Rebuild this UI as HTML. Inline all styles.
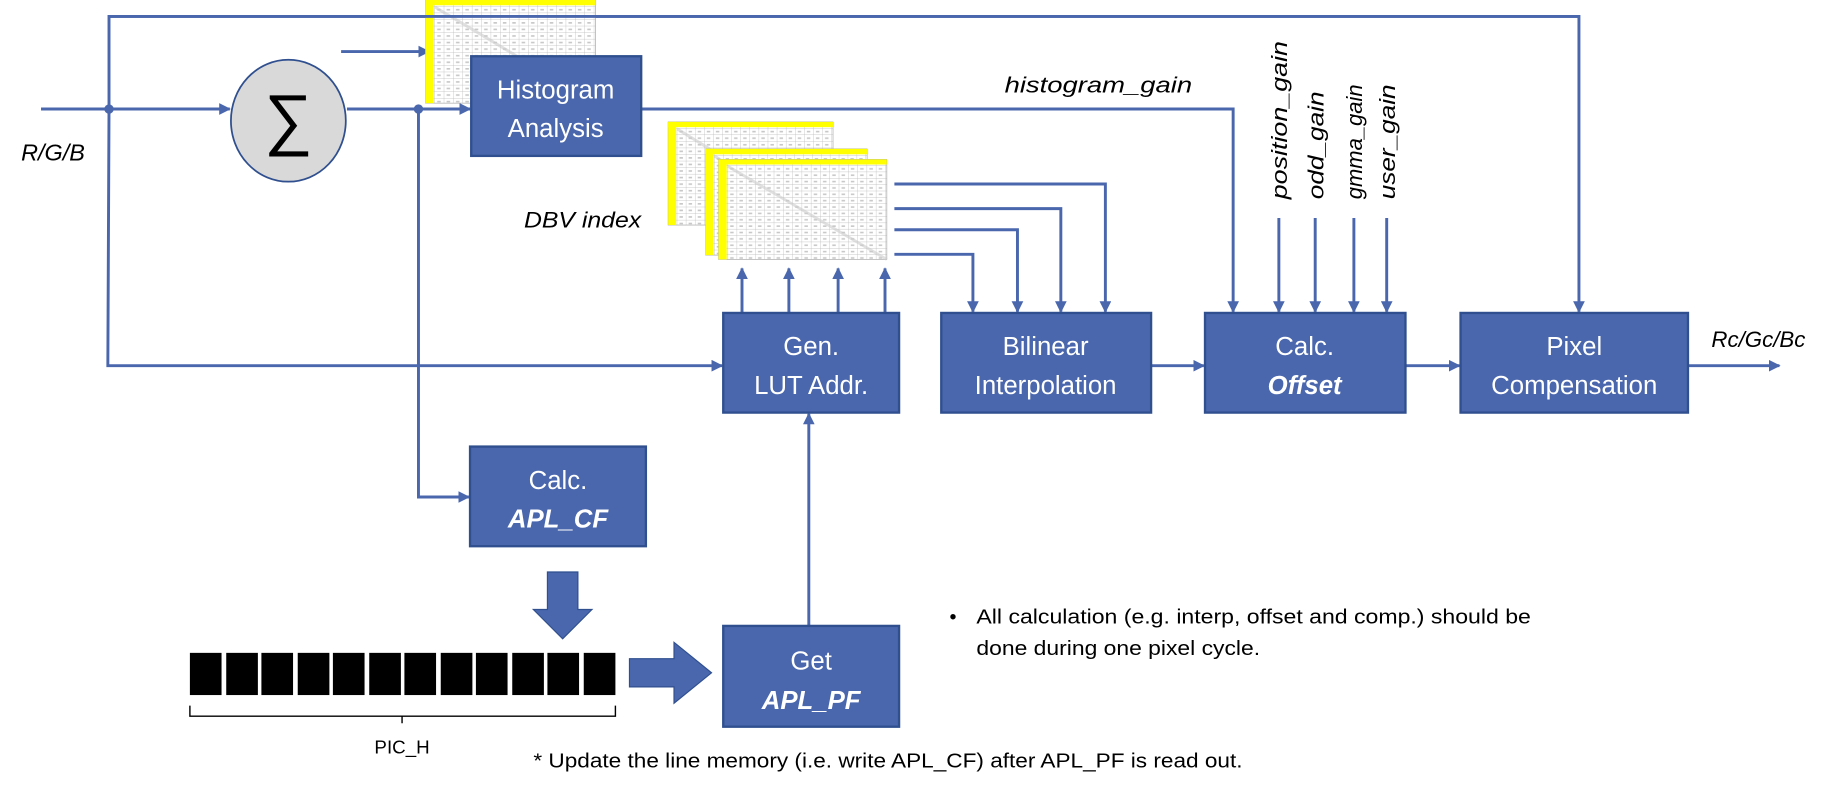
<!DOCTYPE html>
<html><head><meta charset="utf-8"><style>
html,body{margin:0;padding:0;background:#fff;}
svg{display:block;}
text{font-family:"Liberation Sans",sans-serif;}
</style></head><body>
<svg width="1838" height="790" viewBox="0 0 1568 674" preserveAspectRatio="none" xmlns="http://www.w3.org/2000/svg">
<defs>
<marker id="ar" markerWidth="10" markerHeight="10" refX="9" refY="5" orient="auto" markerUnits="userSpaceOnUse">
<path d="M0,0 L10,5 L0,10 Z" fill="#4a67ad"/></marker>
<pattern id="grid" width="8" height="5.6" patternUnits="userSpaceOnUse">
<rect width="8" height="5.6" fill="#fff"/>
<path d="M8,0 V5.6 M0,5.6 H8" stroke="#b8b8b8" stroke-width="0.6"/>
<rect x="2" y="2" width="3" height="1.4" fill="#c8c8c8"/>
</pattern>
<g id="tbl">
<rect x="0" y="0" width="145" height="88" fill="url(#grid)" stroke="#aaa" stroke-width="0.6"/>
<rect x="0" y="0" width="145" height="4.5" fill="#ffff00"/>
<rect x="0" y="0" width="7" height="88" fill="#ffff00"/>
<path d="M8,6 L145,88" stroke="#ccc" stroke-width="2.5" opacity="0.6"/>
</g>
</defs>
<g stroke="#4a67ad" stroke-width="2.5" fill="none">
<path d="M93,93 V14 H1347 V266" marker-end="url(#ar)"/>
<path d="M93,93 L92,312 H616" marker-end="url(#ar)"/>
<path d="M35,93 H196" marker-end="url(#ar)"/>
<path d="M296,93 H401" marker-end="url(#ar)"/>
<path d="M291,44 H366" marker-end="url(#ar)"/>
<path d="M357,93 V424 H400" marker-end="url(#ar)"/>
<path d="M547,93 H1052 V266" marker-end="url(#ar)"/>
</g>
<use href="#tbl" transform="translate(363,0)"/>
<path d="M93,14 H1347" stroke="#4a67ad" stroke-width="2.5"/>
<circle cx="93" cy="93" r="4" fill="#4a67ad"/>
<circle cx="357" cy="93" r="4" fill="#4a67ad"/>
<ellipse cx="246" cy="103" rx="49" ry="52" fill="#d9d9d9" stroke="#2f4f8f" stroke-width="1.5"/>
<text x="246" y="121" text-anchor="middle" font-size="58" fill="#000">∑</text>
<rect x="402" y="48" width="145" height="85" fill="#4a67ad" stroke="#2f4f8f" stroke-width="2"/>
<text x="474" y="84" text-anchor="middle" font-size="22" fill="#fff">Histogram</text>
<text x="474" y="117" text-anchor="middle" font-size="22" fill="#fff">Analysis</text>
<use href="#tbl" transform="translate(570,104) scale(0.97,1)"/>
<use href="#tbl" transform="translate(602,127) scale(0.95,1.03)"/>
<use href="#tbl" transform="translate(613,136) scale(0.99,0.97)"/>
<g stroke="#4a67ad" stroke-width="2.5" fill="none">
<path d="M763,157 H943 V266" marker-end="url(#ar)"/>
<path d="M763,178 H905 V266" marker-end="url(#ar)"/>
<path d="M763,196 H868 V266" marker-end="url(#ar)"/>
<path d="M763,217 H830 V266" marker-end="url(#ar)"/>
<path d="M633,267 V229" marker-end="url(#ar)"/>
<path d="M673,267 V229" marker-end="url(#ar)"/>
<path d="M715,267 V229" marker-end="url(#ar)"/>
<path d="M755,267 V229" marker-end="url(#ar)"/>
<path d="M690,534 V353" marker-end="url(#ar)"/>
<path d="M982,312 H1027" marker-end="url(#ar)"/>
<path d="M1199,312 H1245" marker-end="url(#ar)"/>
<path d="M1440,312 H1518" marker-end="url(#ar)"/>
<path d="M1091,186 V266" marker-end="url(#ar)"/>
<path d="M1122,186 V266" marker-end="url(#ar)"/>
<path d="M1155,186 V266" marker-end="url(#ar)"/>
<path d="M1183,186 V266" marker-end="url(#ar)"/>
</g>
<text x="18" y="137" font-size="20" font-style="italic" fill="#000">R/G/B</text>
<text x="857" y="79" font-size="19" font-style="italic" fill="#000" textLength="160" lengthAdjust="spacingAndGlyphs">histogram_gain</text>
<text x="447" y="194" font-size="19" font-style="italic" fill="#000" textLength="100" lengthAdjust="spacingAndGlyphs">DBV index</text>
<text x="1460" y="296" font-size="19" font-style="italic" fill="#000">Rc/Gc/Bc</text>
<g font-size="19" font-style="italic" fill="#000">
<text transform="translate(1098,170) rotate(-90)" textLength="135" lengthAdjust="spacingAndGlyphs">position_gain</text>
<text transform="translate(1129,170) rotate(-90)" textLength="92" lengthAdjust="spacingAndGlyphs">odd_gain</text>
<text transform="translate(1162,170) rotate(-90)" textLength="98" lengthAdjust="spacingAndGlyphs">gmma_gain</text>
<text transform="translate(1190,170) rotate(-90)" textLength="98" lengthAdjust="spacingAndGlyphs">user_gain</text>
</g>
<g fill="#4a67ad" stroke="#2f4f8f" stroke-width="2">
<rect x="617" y="267" width="150" height="85"/>
<rect x="803" y="267" width="179" height="85"/>
<rect x="1028" y="267" width="171" height="85"/>
<rect x="1246" y="267" width="194" height="85"/>
<rect x="401" y="381" width="150" height="85"/>
<rect x="617" y="534" width="150" height="86"/>
</g>
<g fill="#fff" font-size="22" text-anchor="middle">
<text x="692" y="303">Gen.</text>
<text x="692" y="336">LUT Addr.</text>
<text x="892" y="303">Bilinear</text>
<text x="892" y="336">Interpolation</text>
<text x="1113" y="303">Calc.</text>
<text x="1113" y="336" font-weight="bold" font-style="italic">Offset</text>
<text x="1343" y="303">Pixel</text>
<text x="1343" y="336">Compensation</text>
<text x="476" y="417">Calc.</text>
<text x="476" y="450" font-weight="bold" font-style="italic">APL_CF</text>
<text x="692" y="571">Get</text>
<text x="692" y="605" font-weight="bold" font-style="italic">APL_PF</text>
</g>
<path d="M467,488 H493 V520 H505 L480,545 L455,520 H467 Z" fill="#4a67ad" stroke="#2f4f8f" stroke-width="1"/>
<path d="M537,562 H575 V548 L607,574 L575,600 V586 H537 Z" fill="#4a67ad" stroke="#2f4f8f" stroke-width="1"/>
<g fill="#000">
<rect x="162" y="557" width="27" height="36"/>
<rect x="193" y="557" width="27" height="36"/>
<rect x="223" y="557" width="27" height="36"/>
<rect x="254" y="557" width="27" height="36"/>
<rect x="284" y="557" width="27" height="36"/>
<rect x="315" y="557" width="27" height="36"/>
<rect x="345" y="557" width="27" height="36"/>
<rect x="376" y="557" width="27" height="36"/>
<rect x="406" y="557" width="27" height="36"/>
<rect x="437" y="557" width="27" height="36"/>
<rect x="467" y="557" width="27" height="36"/>
<rect x="498" y="557" width="27" height="36"/>
</g>
<path d="M162,602 V611 H525 V602 M343,611 V617" stroke="#000" stroke-width="1.2" fill="none"/>
<text x="343" y="643" text-anchor="middle" font-size="16" fill="#000">PIC_H</text>
<text x="810" y="532" font-size="17" fill="#000">•</text>
<text x="833" y="532" font-size="17" fill="#000" textLength="473" lengthAdjust="spacingAndGlyphs">All calculation (e.g. interp, offset and comp.) should be</text>
<text x="833" y="559" font-size="17" fill="#000" textLength="242" lengthAdjust="spacingAndGlyphs">done during one pixel cycle.</text>
<text x="455" y="655" font-size="17" fill="#000" textLength="605" lengthAdjust="spacingAndGlyphs">* Update the line memory (i.e. write APL_CF) after APL_PF is read out.</text>
</svg>
</body></html>
